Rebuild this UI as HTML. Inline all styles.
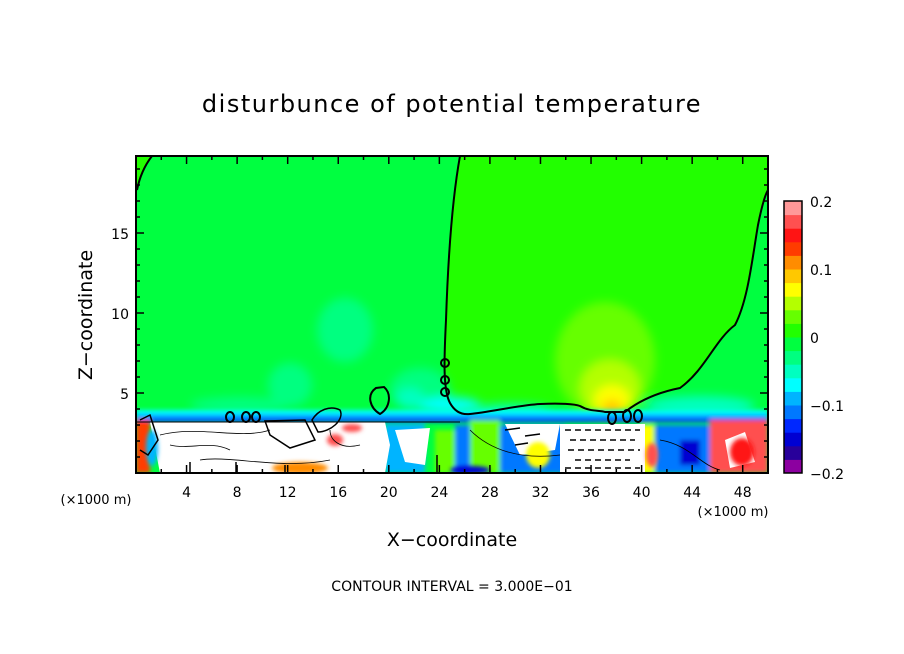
<!DOCTYPE html>
<html><head><meta charset="utf-8"><style>
body{margin:0;background:#fff;}
svg{display:block;font-family:"DejaVu Sans","Liberation Sans",sans-serif;}
</style></head><body>
<svg id="chart" width="904" height="654" viewBox="0 0 904 654" xmlns="http://www.w3.org/2000/svg">
<defs>
<clipPath id="pc"><rect x="136" y="156" width="632" height="317"/></clipPath>
<filter id="b4" x="-30%" y="-30%" width="160%" height="160%"><feGaussianBlur stdDeviation="5"/></filter>
<filter id="b2" x="-30%" y="-30%" width="160%" height="160%"><feGaussianBlur stdDeviation="2"/></filter>
</defs>
<text x="452" y="112" text-anchor="middle" font-size="24" letter-spacing="1.5">disturbunce of potential temperature</text>
<g id="plot" clip-path="url(#pc)">
<rect x="136" y="156" width="632" height="317" fill="#00ff40"/>
<path d="M460,156 C452,200 448,260 446,320 C444,360 443,390 450,403 C455,412 462,415 470,414 L540,404 L578,404 L582,412 L625,412 C640,400 660,392 680,388 C705,370 715,340 735,325 C748,300 752,260 758,225 C762,205 765,195 768,190 L768,156 Z" fill="#22ff00"/>
<path d="M136,156 L152,156 C145,165 140,175 137,190 Z" fill="#22ff00"/>
<g filter="url(#b4)">
<ellipse cx="345" cy="330" rx="28" ry="32" fill="#00ff80"/>
<ellipse cx="290" cy="385" rx="22" ry="22" fill="#00ff80"/>
<ellipse cx="420" cy="390" rx="30" ry="22" fill="#00ff80"/>
<ellipse cx="410" cy="398" rx="14" ry="10" fill="#00ffc0"/>
<ellipse cx="605" cy="360" rx="50" ry="58" fill="#66ff00"/>
<ellipse cx="610" cy="388" rx="30" ry="28" fill="#b4ff00"/>
<ellipse cx="612" cy="400" rx="18" ry="15" fill="#ffff00"/>
<ellipse cx="612" cy="408" rx="10" ry="8" fill="#ffc800"/>
<ellipse cx="240" cy="405" rx="50" ry="8" fill="#00ff80"/>
<ellipse cx="450" cy="405" rx="30" ry="8" fill="#00ffff"/>
<ellipse cx="700" cy="406" rx="55" ry="10" fill="#00ffc0"/>
<ellipse cx="510" cy="410" rx="40" ry="6" fill="#00ffc0"/>
</g>
<g filter="url(#b2)">
<rect x="136" y="410" width="632" height="8" fill="#00ffff"/>
<rect x="136" y="414" width="632" height="7" fill="#00b4ff"/>
<rect x="136" y="418" width="632" height="4" fill="#0028ff"/>
<rect x="455" y="425" width="110" height="48" fill="#0078ff"/>
<rect x="655" y="425" width="60" height="48" fill="#0078ff"/>
<rect x="680" y="440" width="20" height="25" fill="#0000d2"/>
<rect x="385" y="424" width="40" height="49" fill="#00b4ff"/>
<rect x="470" y="420" width="30" height="53" fill="#66ff00"/>
<rect x="435" y="430" width="20" height="43" fill="#66ff00"/>
<rect x="710" y="420" width="58" height="53" fill="#ff5050"/>
<rect x="136" y="420" width="14" height="53" fill="#ff3c00"/>
<rect x="640" y="425" width="14" height="48" fill="#ffff00"/>
</g>
<path d="M150,422 L385,422 L390,445 L385,473 L160,473 Z" fill="#fff"/>
<path d="M560,424 L645,424 L645,473 L560,473 Z" fill="#fff"/>
<path d="M505,424 L560,424 L555,450 L520,455 Z" fill="#fff"/>
<path d="M725,440 L745,432 L755,462 L730,468 Z" fill="#fff"/>
<path d="M395,430 L430,428 L425,465 L405,462 Z" fill="#fff"/>
<g filter="url(#b2)">
<ellipse cx="152" cy="448" rx="6" ry="18" fill="#00b4ff"/>
<ellipse cx="335" cy="440" rx="8" ry="6" fill="#ff5050"/>
<ellipse cx="300" cy="468" rx="28" ry="6" fill="#ff8c00"/>
<ellipse cx="352" cy="428" rx="10" ry="4" fill="#ff5050"/>
<ellipse cx="538" cy="455" rx="12" ry="13" fill="#ffff00"/>
<ellipse cx="652" cy="455" rx="6" ry="12" fill="#ff5050"/>
<ellipse cx="742" cy="452" rx="12" ry="14" fill="#ff1414"/>
<ellipse cx="470" cy="470" rx="20" ry="4" fill="#0000d2"/>
</g>
<g fill="none" stroke="#000" stroke-width="2">
<path d="M460,156 C452,200 448,260 446,320 C444,360 443,390 450,403 C455,412 462,415 470,414 C490,412 520,405 540,404 C560,403 575,404 580,406 C590,412 600,410 605,412 L625,412 C640,400 660,392 680,388 C705,370 715,340 735,325 C748,300 752,260 758,225 C762,205 765,195 768,190"/>
<path d="M137,190 C140,175 145,165 152,156"/>
<path d="M376,388 C366,395 370,408 380,414 C390,408 392,394 384,387 Z"/>
<ellipse cx="445" cy="363" rx="4" ry="4"/><ellipse cx="445" cy="380" rx="4" ry="4"/><ellipse cx="445" cy="392" rx="4" ry="4"/>
<ellipse cx="230" cy="417" rx="4" ry="5"/><ellipse cx="246" cy="417" rx="4" ry="5"/><ellipse cx="256" cy="417" rx="4" ry="5"/>
<ellipse cx="612" cy="418" rx="4" ry="6"/><ellipse cx="627" cy="416" rx="4" ry="6"/><ellipse cx="638" cy="416" rx="4" ry="6"/>
<path d="M265,421 L305,420 L315,440 L290,448 L270,435 Z" stroke-width="1.5"/>
<path d="M140,420 L150,415 L158,440 L148,455 L140,450" stroke-width="1.5"/>
<path d="M312,420 C318,410 330,405 340,410 C345,420 330,432 318,432 Z" stroke-width="1.5"/>
<path d="M136,422 L460,422" stroke-width="1"/>
</g>
<g fill="none" stroke="#000" stroke-width="0.8">
<path d="M160,435 C200,425 240,440 270,430"/><path d="M200,460 C230,455 280,470 330,460"/>
<path d="M330,430 C330,440 340,450 360,445"/><path d="M170,445 C190,450 210,440 230,450"/>
<path d="M565,430 L640,430 M570,440 L635,440 M568,450 L640,450 M575,460 L630,460 M565,468 L640,468" stroke-dasharray="6 4" stroke-width="1.5"/>
<path d="M470,430 C490,450 520,460 560,455"/><path d="M660,440 C690,445 700,465 720,470"/>
<path d="M505,430 L520,428 M525,436 L540,434 M515,445 L528,443" stroke-width="1.5"/>
<path d="M190,473 L190,462 M236,473 L236,462 M285,473 L285,465 M437,473 L437,455" stroke-width="1.5"/>
</g>
</g>
<rect x="136" y="156" width="632" height="317" fill="none" stroke="#000" stroke-width="2"/>
<g id="axes" font-size="14"></g>
<text x="452" y="546" text-anchor="middle" font-size="19">X−coordinate</text>
<text transform="translate(92,315) rotate(-90)" text-anchor="middle" font-size="19">Z−coordinate</text>
<text x="96" y="504" text-anchor="middle" font-size="13">(×1000 m)</text>
<text x="733" y="516" text-anchor="middle" font-size="13">(×1000 m)</text>
<text x="452" y="591" text-anchor="middle" font-size="14">CONTOUR INTERVAL = 3.000E−01</text>
<g id="cbar"></g>
</svg>
<script>
const xTicks=[4,8,12,16,20,24,28,32,36,40,44,48];
const zTicks=[5,10,15];
const cbColors=["#8c00a0","#28009a","#0000d2","#0028ff","#0078ff","#00b4ff","#00ffff","#00ffc0","#00ff80","#00ff40","#22ff00","#66ff00","#b4ff00","#ffff00","#ffc800","#ff8c00","#ff3c00","#ff1414","#ff5050","#ff9898"];
const cbLabels=[-0.2,-0.1,0,0.1,0.2];
const NS="http://www.w3.org/2000/svg";
const X=v=>136+v*12.64, Z=v=>473-v*16;
const ax=document.getElementById('axes');
function mk(t,a,p){const e=document.createElementNS(NS,t);for(const k in a)e.setAttribute(k,a[k]);p.appendChild(e);return e;}
for(let v=2;v<50;v+=2){
 const maj=xTicks.includes(v), L=maj?8:4;
 const a=mk('line',{x1:X(v),x2:X(v),y1:473,y2:473-L,stroke:'#000','stroke-width':1.5},ax);
 
 
 const b=mk('line',{x1:X(v),x2:X(v),y1:156,y2:156+L,stroke:'#000','stroke-width':1.5},ax);
 
 
}
for(let v=1;v<20;v++){
 const maj=zTicks.includes(v), L=maj?8:4;
 const a=mk('line',{x1:136,x2:136+L,y1:Z(v),y2:Z(v),stroke:'#000','stroke-width':1.5},ax);
 
 
 const b=mk('line',{x1:768,x2:768-L,y1:Z(v),y2:Z(v),stroke:'#000','stroke-width':1.5},ax);
 
 
}
xTicks.forEach(v=>{
 const t=mk('text',{x:X(v),y:497,'text-anchor':'middle'},ax);t.textContent=v;
 
 
});
zTicks.forEach(v=>{
 const t=mk('text',{x:129,y:Z(v)+6,'text-anchor':'end'},ax);t.textContent=v;
 
 
});
const cb=document.getElementById('cbar');
const cbTop=201,cbBot=473,h=(cbBot-cbTop)/cbColors.length;
cbColors.forEach((c,i)=>{
 const r=mk('rect',{x:784,y:cbBot-(i+1)*h,width:18,height:h+0.5,fill:c},cb);
 
 
});
mk('rect',{x:784,y:cbTop,width:18,height:cbBot-cbTop,fill:'none',stroke:'#000','stroke-width':1.5},cb);
cbLabels.forEach(v=>{
 const y=cbBot-(v+0.2)/0.4*(cbBot-cbTop);
 const t=mk('text',{x:810,y:y+6,'font-size':14},cb);
 t.textContent=(v<0?'−':'')+Math.abs(v).toString();
 
 
});
</script>
</body></html>
